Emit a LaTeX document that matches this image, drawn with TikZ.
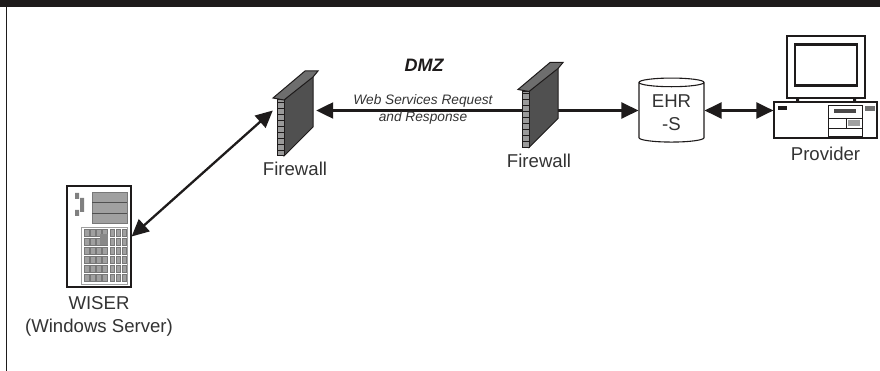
\documentclass[tikz,border=0pt]{standalone}
\usepackage{fontspec}
\setmainfont{Liberation Sans}
\usepackage{xcolor}
\usetikzlibrary{arrows.meta,positioning,shapes.geometric}
\definecolor{fwink}{HTML}{1E1B1B}
\definecolor{fwwall}{HTML}{505050}
\definecolor{fwcap}{HTML}{6E6E6E}
\definecolor{srvgrey}{HTML}{A0A0A0}
\definecolor{lblink}{HTML}{333333}

\tikzset{
  firewall/.pic={
    \fill[fwwall,draw=fwink,line width=1pt] (7,0) -- (7,-56) -- (36,-83) -- (36,-29) -- cycle;
    \fill[fwcap!70!white,draw=fwink,line width=1pt] (0,0) -- (0,-56) -- (7,-56) -- (7,0) -- cycle;
    \foreach \yy in {-6,-12,...,-54} {\draw[fwink,line width=0.5pt] (0,\yy) -- (7,\yy);}
    \fill[fwcap,draw=fwink,line width=1pt] (-4,-58) -- (28,-85) -- (41,-85) -- (36,-79) -- (7,-56) -- cycle;
  },
}

\begin{document}
\begin{tikzpicture}[
  x=1pt,y=-1pt,
  lbl/.style={align=center,text=lblink,inner sep=0pt,font=\fontsize{18.6}{23}\selectfont},
  hotspot/.style={inner sep=0pt,minimum height=90pt},
  arr/.style={-{Triangle[length=17pt,width=16pt]},line width=2.3pt,draw=fwink},
  biarr/.style={{Triangle[length=17pt,width=16pt]}-{Triangle[length=17pt,width=16pt]},line width=2.3pt,draw=fwink},
  store/.style={cylinder,shape border rotate=90,aspect=0.22,draw=fwink,line width=1.1pt,
                minimum width=65pt,minimum height=64pt,inner sep=0pt,align=center,text=lblink,
                font=\fontsize{18.6}{23}\selectfont},
  srvcell/.style={fill=srvgrey,draw=srvgrey!75!black,line width=0.4pt},
  thinbox/.style={draw=fwink,line width=0.7pt},
]
\useasboundingbox (0,0) rectangle (880,371);

% frame
\fill[fwink] (0,0) rectangle (880,7.5);
\fill[fwink] (5.5,7.5) rectangle (7,371);

% nodes
\node[draw=fwink,line width=1.2pt,minimum width=64pt,minimum height=101pt,inner sep=0pt] (wiser) at (99,236.5) {};
\node[hotspot,minimum width=43pt] (fw1) at (294.5,110.5) {};
\node[hotspot,minimum width=35pt] (fw2) at (539.5,110.5) {};
\node[store] (ehr) at (671.5,112.5) {\raisebox{-2.5pt}{EHR}\\[0pt]\raisebox{-2.5pt}{-S}};
\node[minimum width=103pt,minimum height=36pt,inner sep=0pt,draw=fwink,line width=1.2pt] (pc) at (825.5,120) {};

% connectors
\draw[biarr] (wiser.east) -- (fw1.west);
\draw[arr] (fw2.west) -- (fw1.east);
\draw[arr] (fw2.east) -- (ehr.west |- fw2.east);
\draw[biarr] (ehr.east |- fw2.east) -- (pc.west |- fw2.east);

% firewalls
\pic at (277,156) {firewall};
\pic at (522,147.5) {firewall};

% server
\fill[srvgrey,draw=srvgrey!75!black,line width=0.5pt] (92,192) rectangle (127,223);
\draw[srvgrey!50!black,line width=0.6pt] (92,202.5) -- (127,202.5) (92,213) -- (127,213);
\fill[srvgrey!80!black] (75,193) rectangle (79,199) (75,210) rectangle (79,216) (80,198) rectangle (84,212);
\draw[srvgrey,line width=0.6pt] (81,227) rectangle (127,284);
\foreach \yy in {229,238,...,274} {
  \foreach \xx in {84,90,96,102} {\fill[srvcell] (\xx,\yy) rectangle ++(5,7);}
  \foreach \xx in {110,116,122} {\fill[srvcell] (\xx,\yy) rectangle ++(4.5,7);}
}
\fill[srvgrey!85!black] (100,234) rectangle (108,245);

% provider
\draw[fwink,line width=1.2pt] (787,36) rectangle (865,98);
\draw[fwink,line width=2.6pt] (795,44.5) rectangle (857,85.5);
\fill[fwink] (796,98) rectangle (799,102) (853,98) rectangle (856,102);
\fill[fwink] (778,106) rectangle (787,110);
\draw[thinbox] (828,105) rectangle (862,136);
\draw[thinbox] (828,118) -- (862,118) (828,128) -- (862,128) (846,118) -- (846,128);
\fill[fwink!80!white] (834,109) rectangle (856,113);
\fill[srvgrey] (848,120) rectangle (860,126);
\fill[srvgrey!70!black] (865,106) rectangle (875,111);

% labels
\node[lbl,below=9pt of wiser] (wiserlbl) {WISER\\(Windows Server)};
\node[lbl] (fw1lbl) at (295,169) {Firewall};
\node[lbl] (fw2lbl) at (539,161) {Firewall};
\node[lbl,below=8pt of pc] (pclbl) {Provider};
\node[lbl,font=\fontsize{18}{20}\selectfont\bfseries\itshape,text=fwink] (dmz) at (424,65) {DMZ};
\node[lbl,font=\fontsize{13.7}{17}\selectfont\itshape] (wsreq) at (423,109.5) {Web Services Request\\and Response};

\end{tikzpicture}
\end{document}
